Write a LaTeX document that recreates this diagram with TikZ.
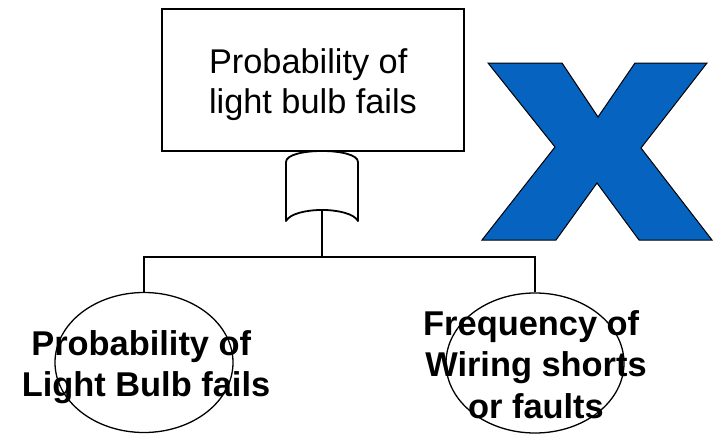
\documentclass[tikz,border=0pt]{standalone}
\usepackage{fontspec}
\setmainfont{Liberation Sans}
\usetikzlibrary{shapes.geometric,positioning}

\definecolor{crossblue}{RGB}{6,99,192}

\begin{document}
\begin{tikzpicture}[x=1pt,y=-1pt,
 eventbox/.style={draw,line width=1.3pt,minimum width=302pt,
   minimum height=142pt,inner sep=0pt,align=center,
   font=\fontsize{34.3}{40}\selectfont},
 basic/.style={draw,ellipse,line width=1.3pt,minimum width=178pt,
   minimum height=140pt,inner sep=0pt},
 basictext/.style={align=center,inner sep=0pt,
   font=\fontsize{34.4}{41.5}\selectfont\bfseries},
 gateline/.style={line width=1.8pt,line join=round},
 link/.style={line width=1.3pt}
]
\useasboundingbox (0,0) rectangle (713,434);

\node[eventbox] (event) at (313,80)
 {\rule{0pt}{35pt}Probability of\hspace*{0.278em}\\light bulb fails};

% gate below the top event
\coordinate (gateout) at (322,210);
\coordinate (split) at (322,257);
\draw[gateline] (286,221) -- (286,162)
 .. controls (286,147.3) and (358,147.3) .. (358,162) -- (358,221)
 .. controls (350,206.3) and (294,206.3) .. (286,221) -- cycle;

\node[basic] (bulb) at (144,362.5) {};
\node[basic] (wiring) at (535,363) {};
\node[basictext] (bulbtext) at (146,367)
 {Probability of\hspace*{0.278em}\\Light Bulb fails};
\node[basictext] (wiringtext) at (536,364.5)
 {Frequency of\hspace*{0.278em}\\Wiring shorts\hspace*{0.278em}\\or faults};

\draw[link] (gateout) -- (split);
\draw[link] (bulb.north) |- (split) -| (wiring.north);

% the big cross
\fill[crossblue,draw=black,line width=1pt] (488,63) -- (562,63) -- (598,117)
 -- (635,63) -- (707,63) -- (641,148) -- (712,240) -- (639,240)
 -- (597,183) -- (556,240) -- (482,240) -- (555,147) -- cycle;
\end{tikzpicture}
\end{document}
